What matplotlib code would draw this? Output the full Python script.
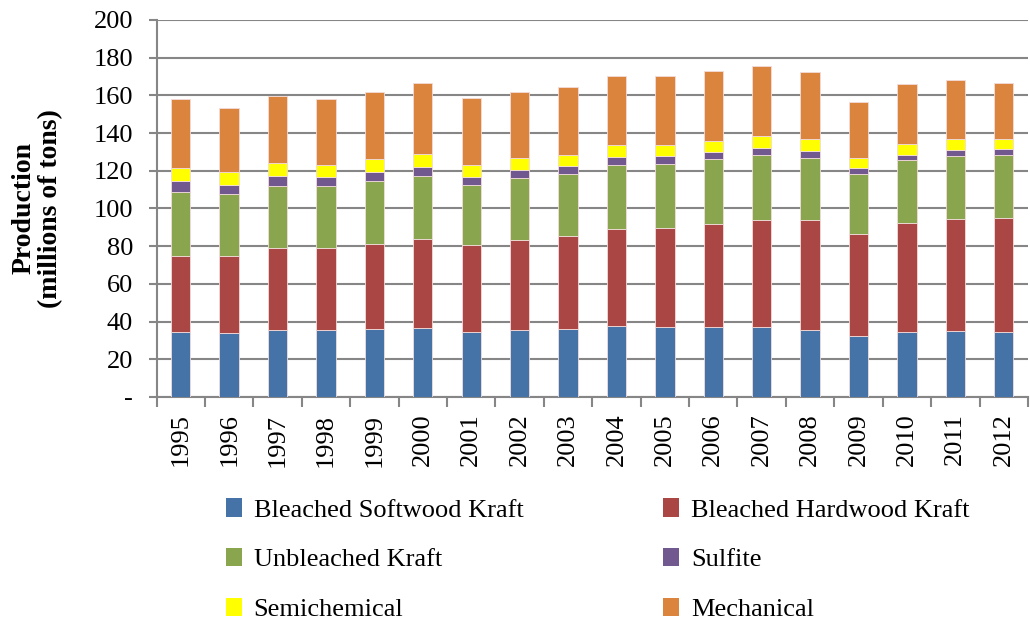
import matplotlib.pyplot as plt
import numpy as np
from matplotlib.patches import Patch

years = ['1995', '1996', '1997', '1998', '1999', '2000', '2001', '2002', '2003',
         '2004', '2005', '2006', '2007', '2008', '2009', '2010', '2011', '2012']

softwood = [34.6, 34.1, 35.3, 35.7, 36.2, 36.6, 34.6, 35.3, 36.0,
            37.8, 37.1, 37.1, 37.3, 35.7, 32.2, 34.5, 35.2, 34.6]
hardwood = [40.1, 40.6, 43.7, 43.3, 44.9, 47.0, 45.8, 47.9, 49.3,
            51.2, 52.5, 54.6, 56.3, 57.9, 54.2, 57.7, 59.1, 60.3]
unbleached = [34.1, 32.7, 32.8, 32.7, 33.2, 33.4, 31.8, 32.7, 32.9,
              34.1, 33.9, 34.6, 35.0, 33.4, 31.8, 33.4, 33.6, 33.5]
sulfite = [6.0, 5.3, 5.5, 4.9, 4.8, 5.1, 4.6, 4.4, 4.2,
           4.1, 4.1, 3.6, 3.7, 3.7, 3.0, 3.0, 3.2, 2.9]
semichemical = [6.9, 6.7, 6.9, 6.7, 6.9, 6.9, 6.3, 6.4, 6.2,
                6.4, 6.0, 6.1, 6.2, 5.9, 5.5, 5.5, 5.5, 5.4]
mechanical = [36.3, 34.1, 35.3, 34.8, 35.8, 37.8, 35.6, 35.3, 35.7,
              36.7, 36.5, 37.1, 36.9, 35.7, 29.8, 32.2, 31.4, 30.1]

names = ['Bleached Softwood Kraft', 'Bleached Hardwood Kraft', 'Unbleached Kraft',
         'Sulfite', 'Semichemical', 'Mechanical']
colors = ['#4572A7', '#AA4643', '#89A54E', '#71588F', '#FFFF00', '#DB843D']
series = [softwood, hardwood, unbleached, sulfite, semichemical, mechanical]

plt.rcParams['font.family'] = ['Liberation Serif', 'DejaVu Serif']

fig = plt.figure(figsize=(10.3, 6.25), dpi=100)
ax = fig.add_axes([0.152, 0.365, 0.846, 0.603])

x = np.arange(len(years))
bottom = np.zeros(len(years))
for vals, name, c in zip(series, names, colors):
    ax.bar(x, vals, 0.4, bottom=bottom, color=c, edgecolor='#f2dcdb',
           linewidth=0.6, label=name, zorder=3)
    bottom += np.array(vals)

ax.set_xlim(-0.5, len(years) - 0.5)
ax.set_ylim(0, 200)
yt = np.arange(0, 201, 20)
ax.set_yticks(yt)
ax.set_yticklabels(['-'] + [str(v) for v in yt[1:]], fontsize=19)
ax.set_xticks(x)
ax.set_xticklabels(years, rotation=90, fontsize=19)
ax.set_xticks(np.arange(-0.5, len(years), 1), minor=True)
ax.tick_params(axis='x', which='major', length=0, pad=12)
ax.tick_params(axis='x', which='minor', length=7, width=1.5, color='#868686')
ax.tick_params(axis='y', length=6, width=1.5, color='#868686', pad=11)

ax.grid(axis='y', color='#868686', linewidth=1.5, zorder=0)
ax.set_axisbelow(True)
for s in ['top', 'right']:
    ax.spines[s].set_visible(False)
for s in ['left', 'bottom']:
    ax.spines[s].set_color('#868686')
    ax.spines[s].set_linewidth(1.5)

ax.set_ylabel('Production\n(millions of tons)', fontsize=20, fontweight='bold',
              labelpad=22, linespacing=1.05)

# row-major legend order
order = [0, 2, 4, 1, 3, 5]
handles = [Patch(facecolor=colors[i], label=names[i]) for i in order]
fig.legend(handles=handles, ncol=2, loc='upper left', bbox_to_anchor=(0.209, 0.22),
           frameon=False, fontsize=19, handlelength=0.6, handleheight=0.7,
           handletextpad=0.45, columnspacing=5.3, labelspacing=1.0, borderaxespad=0)

fig.savefig('out.png', dpi=100)
